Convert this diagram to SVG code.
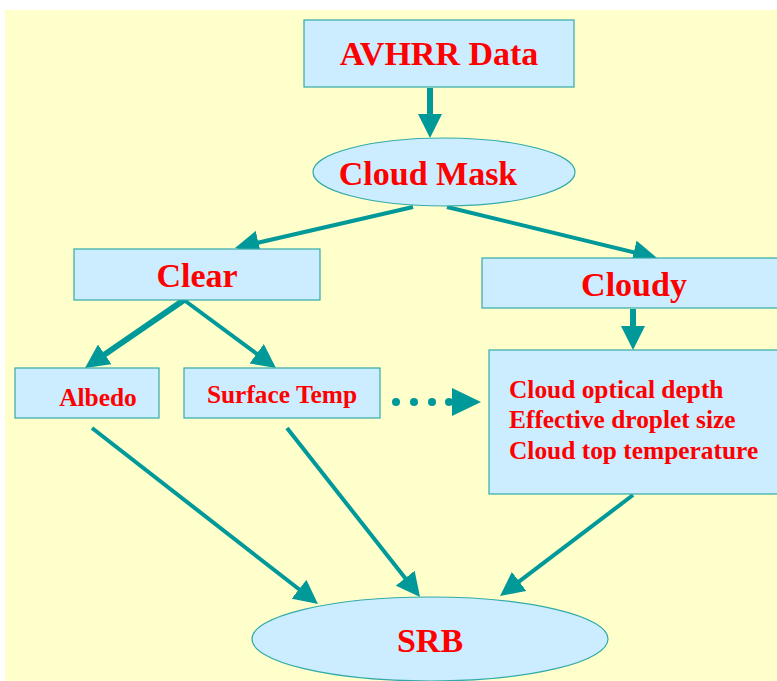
<svg xmlns="http://www.w3.org/2000/svg" width="777" height="681" viewBox="0 0 777 681">
<style>
.box{fill:#CCECFF;stroke:#33AAAA;stroke-width:1.2}
.t{font-family:"Liberation Serif","Times New Roman",serif;font-weight:bold;fill:#FF0000}
.big{font-size:34px}
.small{font-size:25.4px}
.c{stroke:#009999;fill:none}
</style>
<defs>
<marker id="ah" viewBox="0 0 24 24" refX="11" refY="12" markerWidth="24" markerHeight="24" markerUnits="userSpaceOnUse" orient="auto">
<path d="M0,0 L24,12 L0,24 Z" fill="#009999"/>
</marker>
</defs>
<rect x="0" y="0" width="777" height="681" fill="#FFFFFF"/>
<rect x="5" y="10" width="772" height="671" fill="#FFFFCC"/>
<g id="connectors">
<line class="c" x1="430" y1="88" x2="430" y2="125" stroke-width="6" marker-end="url(#ah)"/>
<line class="c" x1="413" y1="207" x2="247.7" y2="245.1" stroke-width="4" marker-end="url(#ah)"/>
<line class="c" x1="447" y1="207" x2="644.4" y2="254.9" stroke-width="4" marker-end="url(#ah)"/>
<line class="c" x1="633" y1="309" x2="633" y2="337" stroke-width="6" marker-end="url(#ah)"/>
<line class="c" x1="184" y1="300" x2="95.7" y2="360.6" stroke-width="6" marker-end="url(#ah)"/>
<line class="c" x1="184" y1="300" x2="265.5" y2="360.3" stroke-width="4" marker-end="url(#ah)"/>
<line class="c" x1="92" y1="428" x2="307.7" y2="596" stroke-width="4" marker-end="url(#ah)"/>
<line class="c" x1="287" y1="428" x2="412" y2="586.8" stroke-width="4" marker-end="url(#ah)"/>
<line class="c" x1="633" y1="495" x2="510.4" y2="588.1" stroke-width="4" marker-end="url(#ah)"/>
<g fill="#009999">
<circle cx="396" cy="402" r="4"/>
<circle cx="414" cy="402" r="4"/>
<circle cx="432" cy="402" r="4"/>
<circle cx="449" cy="402" r="4"/>
<polygon points="452,388 481,402 452,416"/>
</g>
</g>
<g id="avhrr">
<rect class="box" x="304" y="20" width="270" height="67"/>
<text class="t big" x="439" y="65" text-anchor="middle">AVHRR Data</text>
</g>
<g id="cloudmask">
<ellipse class="box" cx="444" cy="172" rx="131" ry="34"/>
<text class="t big" x="428" y="185" text-anchor="middle">Cloud Mask</text>
</g>
<g id="clear">
<rect class="box" x="74" y="249" width="246" height="51"/>
<text class="t big" x="197" y="287" text-anchor="middle">Clear</text>
</g>
<g id="cloudy">
<rect class="box" x="482" y="258" width="300" height="50"/>
<text class="t big" x="634" y="296" text-anchor="middle">Cloudy</text>
</g>
<g id="albedo">
<rect class="box" x="15" y="368" width="144" height="50"/>
<text class="t small" x="98" y="406" text-anchor="middle">Albedo</text>
</g>
<g id="surfacetemp">
<rect class="box" x="184" y="368" width="196" height="50"/>
<text class="t small" x="282" y="403" text-anchor="middle">Surface Temp</text>
</g>
<g id="cloudprops">
<rect class="box" x="489" y="350" width="300" height="144"/>
<text class="t small" x="509" y="398">Cloud optical depth</text>
<text class="t small" x="509" y="428">Effective droplet size</text>
<text class="t small" x="509" y="459">Cloud top temperature</text>
</g>
<g id="srb">
<ellipse class="box" cx="430" cy="639" rx="178" ry="42"/>
<text class="t big" x="430" y="652" text-anchor="middle">SRB</text>
</g>
</svg>
